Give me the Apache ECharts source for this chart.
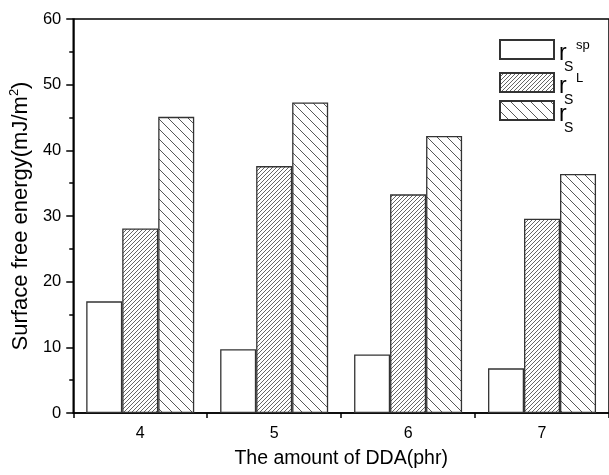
<!DOCTYPE html>
<html>
<head>
<meta charset="utf-8">
<script src="https://cdn.jsdelivr.net/npm/echarts@6/dist/echarts.min.js"></script>
<style>html,body{margin:0;padding:0;background:#fff}#c{width:609px;height:475px}</style>
</head>
<body>
<div id="c"></div>
<script>
var categories = ['4', '5', '6', '7'];
var rsSp = [17.0, 9.7, 8.9, 6.8];
var rsL = [28.1, 37.6, 33.3, 29.6];
var rsTotal = [45.1, 47.3, 42.2, 36.4];
var seriesNames = ['sp', 'L', 'tot'];

function hatch(period, dir, color, lw) {
  var c = document.createElement('canvas');
  c.width = period; c.height = period;
  var g = c.getContext('2d');
  g.fillStyle = '#fff'; g.fillRect(0, 0, period, period);
  g.strokeStyle = color; g.lineWidth = lw;
  g.beginPath();
  for (var k = -1; k <= 1; k++) {
    if (dir > 0) { // "/"
      g.moveTo(k * period, period); g.lineTo(k * period + period, 0);
    } else { // "\"
      g.moveTo(k * period, 0); g.lineTo(k * period + period, period);
    }
  }
  g.stroke();
  return { image: c, repeat: 'repeat' };
}

var chart = echarts.init(document.getElementById('c'), null, { renderer: 'canvas' });
var FONT = 'Liberation Sans, Arial, sans-serif';
var legendRich = {
  sp0: { fontSize: 10, fontFamily: FONT, lineHeight: 19 },
  sup: { fontSize: 13, fontFamily: FONT, color: '#000', lineHeight: 6, padding: [0, 0, 0, 17] },
  r: { fontSize: 23, fontFamily: FONT, color: '#000', lineHeight: 11 },
  s: { fontSize: 14, fontFamily: FONT, color: '#000', lineHeight: 16, padding: [0, 0, 0, 5] }
};
var legendText = {
  sp: '{sp0| }\n{sup|sp}\n{r|r}\n{s|S}',
  L: '{sp0| }\n{sup|L}\n{r|r}\n{s|S}',
  tot: '{sp0| }\n{sup| }\n{r|r}\n{s|S}'
};
function mkLegend(name, top) {
  return {
    data: [name], left: 499, top: top, orient: 'vertical', padding: 0,
    itemWidth: 54, itemHeight: 19, itemGap: 5, icon: 'rect',
    selectedMode: false,
    formatter: function (n) { return legendText[n]; },
    textStyle: { rich: legendRich }
  };
}
var barStyle = { borderColor: '#333', borderWidth: 1.3 };
var option = {
  animation: false,
  grid: { left: 72, right: -3, top: 19, bottom: 62, show: true, borderColor: '#000', borderWidth: 1.5, backgroundColor: 'transparent' },
  legend: [mkLegend('sp', 28), mkLegend('L', 61), mkLegend('tot', 89)],
  xAxis: [{
    type: 'category', data: categories, position: 'bottom',
    name: 'The amount of DDA(phr)', nameLocation: 'middle', nameGap: 36,
    nameTextStyle: { fontSize: 19.5, fontFamily: FONT, color: '#000' },
    axisLine: { lineStyle: { color: '#000', width: 1.5 } },
    axisTick: { alignWithLabel: true, length: 6, lineStyle: { color: '#000', width: 1.5 } },
    axisLabel: { fontSize: 16, fontFamily: FONT, color: '#000', margin: 13 },
    splitLine: { show: false }
  }, {
    type: 'category', data: categories, position: 'bottom', gridIndex: 0,
    axisLine: { show: false },
    axisTick: { show: true, length: 5, lineStyle: { color: '#000', width: 1.5 } },
    axisLabel: { show: false }, splitLine: { show: false }
  }],
  yAxis: {
    type: 'value', min: 0, max: 60, interval: 10,
    name: 'Surface free energy(mJ/m{sup|2})', nameLocation: 'middle', nameGap: 36, nameRotate: 90,
    nameTextStyle: { fontSize: 22, fontFamily: FONT, color: '#000',
      rich: { sup: { fontSize: 13, fontFamily: FONT, color: '#000', verticalAlign: 'top', lineHeight: 26 } } },
    axisLine: { show: true, lineStyle: { color: '#000', width: 1.5 } },
    axisTick: { show: true, length: 7, lineStyle: { color: '#000', width: 1.5 } },
    minorTick: { show: true, splitNumber: 2, length: 4, lineStyle: { color: '#000', width: 1.5 } },
    axisLabel: { fontSize: 16.5, fontFamily: FONT, color: '#000', margin: 12 },
    splitLine: { show: false }
  },
  series: [
    { name: 'sp', type: 'bar', data: rsSp, barWidth: 36, barGap: '0%', itemStyle: Object.assign({ color: '#fff' }, barStyle) },
    { name: 'L', type: 'bar', data: rsL, barWidth: 36, barGap: '0%', itemStyle: Object.assign({ color: hatch(4, 1, '#555', 0.9) }, barStyle) },
    { name: 'tot', type: 'bar', data: rsTotal, barWidth: 36, barGap: '0%', itemStyle: Object.assign({ color: hatch(10, -1, '#444', 0.9) }, barStyle) }
  ]
};
chart.setOption(option);
</script>
</body>
</html>
